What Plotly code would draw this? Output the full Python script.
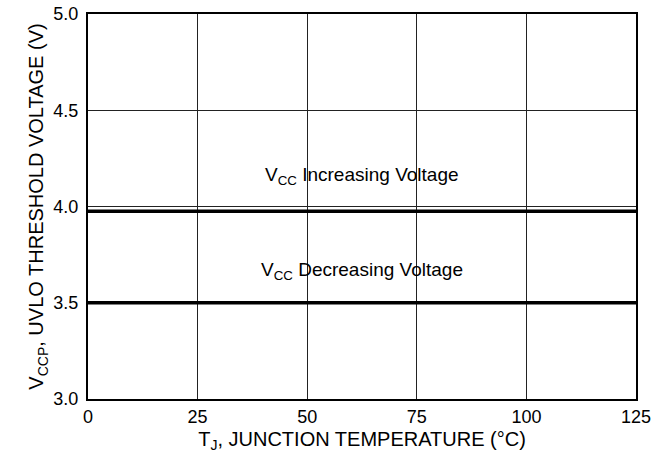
import plotly.graph_objects as go

temps = [0, 25, 50, 75, 100, 125]
v_increasing = [3.975, 3.975, 3.975, 3.975, 3.975, 3.975]
v_decreasing = [3.50, 3.50, 3.50, 3.50, 3.50, 3.50]
x_ticks = [0, 25, 50, 75, 100, 125]
y_ticks = [3.0, 3.5, 4.0, 4.5, 5.0]
y_tick_labels = ["3.0", "3.5", "4.0", "4.5", "5.0"]

FONT = "Liberation Sans, Arial, Helvetica, sans-serif"

fig = go.Figure()
fig.add_trace(go.Scatter(x=temps, y=v_increasing, mode="lines",
                         line=dict(color="black", width=3.5), showlegend=False))
fig.add_trace(go.Scatter(x=temps, y=v_decreasing, mode="lines",
                         line=dict(color="black", width=3.5), showlegend=False))

fig.add_annotation(x=62.5, y=4.16, text="V<sub>CC</sub> Increasing Voltage",
                   showarrow=False, font=dict(family=FONT, size=19, color="black"))
fig.add_annotation(x=62.5, y=3.665, text="V<sub>CC</sub> Decreasing Voltage",
                   showarrow=False, font=dict(family=FONT, size=19, color="black"))

fig.update_layout(
    width=663, height=469,
    margin=dict(l=88, r=27, t=14, b=70),
    paper_bgcolor="white", plot_bgcolor="white",
    font=dict(family=FONT, size=18, color="black"),
    xaxis=dict(range=[0, 125], tickvals=x_ticks, showgrid=True,
               gridcolor="#222", gridwidth=1, zeroline=False,
               showline=True, linecolor="black", linewidth=2, mirror=True,
               ticks="", ticklen=0, automargin=False,
               tickfont=dict(size=18),
               title=dict(text="T<sub>J</sub>, JUNCTION TEMPERATURE (°C)",
                          font=dict(size=20), standoff=6)),
    yaxis=dict(range=[3.0, 5.0], tickvals=y_ticks, ticktext=y_tick_labels,
               showgrid=True, gridcolor="#222", gridwidth=1, zeroline=False,
               showline=True, linecolor="black", linewidth=2, mirror=True,
               ticks="", ticklen=0, automargin=False, ticklabelstandoff=4,
               tickfont=dict(size=18),
               title=dict(text="V<sub>CCP</sub>, UVLO THRESHOLD VOLTAGE (V)",
                          font=dict(size=20), standoff=4)),
)

fig.write_html("out.html", config={"displayModeBar": False},
               post_script="document.body.style.margin='0';")
